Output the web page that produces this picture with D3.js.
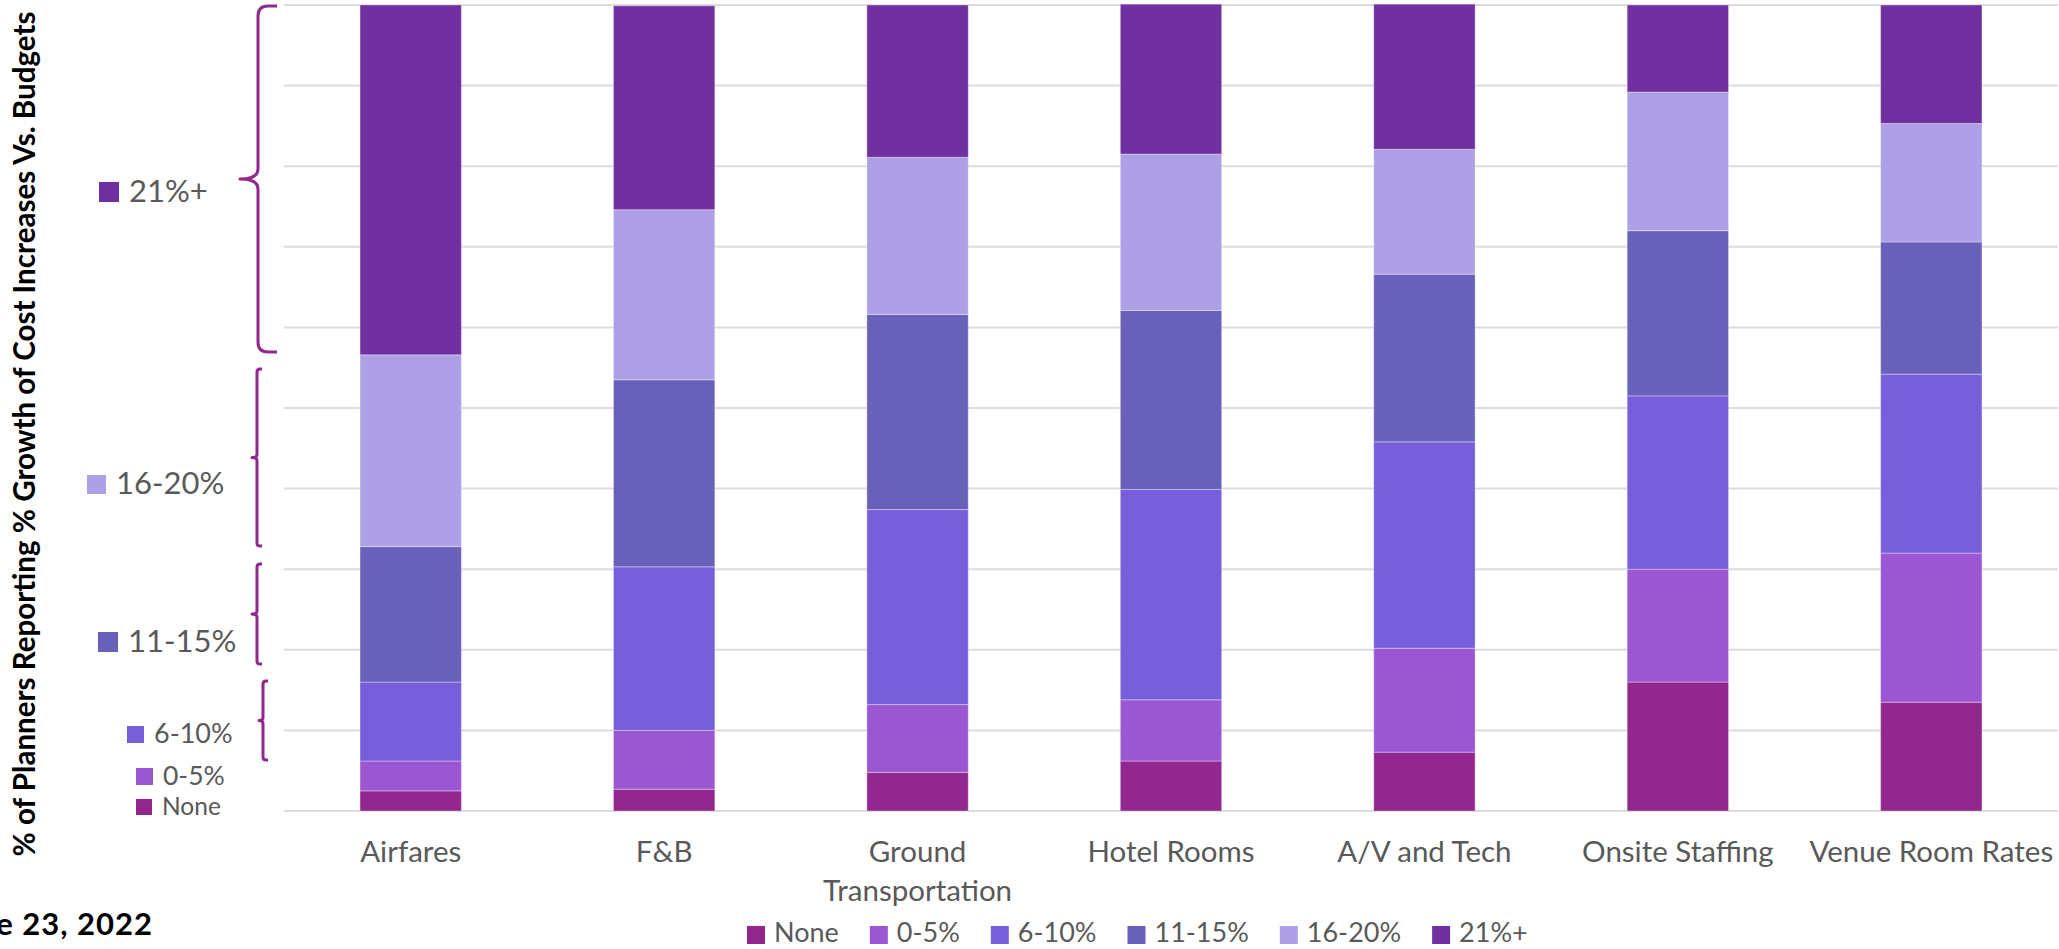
<!DOCTYPE html>
<html>
<head>
<meta charset="utf-8">
<script src="https://cdn.jsdelivr.net/npm/d3@7"></script>
<style>
  html, body { margin: 0; padding: 0; background: #ffffff; }
  svg { display: block; }
</style>
</head>
<body>
<script>
// Cost categories along the x axis
const categories = ["Airfares", "F&B", "Ground Transportation", "Hotel Rooms",
                    "A/V and Tech", "Onsite Staffing", "Venue Room Rates"];

// Growth buckets, bottom of the stack first
const seriesKeys = ["None", "0-5%", "6-10%", "11-15%", "16-20%", "21%+"];

// Share of planners (%) in each bucket, one value per category
const noneValues      = [2.5, 2.7, 4.8, 6.2, 7.3, 16.0, 13.5];
const pct0to5Values   = [3.7, 7.3, 8.4, 7.6, 12.9, 14.0, 18.5];
const pct6to10Values  = [9.8, 20.3, 24.2, 26.1, 25.6, 21.5, 22.2];
const pct11to15Values = [16.8, 23.2, 24.2, 22.2, 20.8, 20.5, 16.4];
const pct16to20Values = [23.8, 21.1, 19.5, 19.4, 15.5, 17.2, 14.7];
const pct21plusValues = [43.4, 25.3, 18.9, 18.6, 18.0, 10.8, 14.7];

// Gridline values on the percentage axis
const yTicks = [0, 10, 20, 30, 40, 50, 60, 70, 80, 90, 100];

const axisTitle = "% of Planners Reporting % Growth of Cost Increases Vs. Budgets";
const dateText = "June 23, 2022";

// ---- styling / layout ----
const W = 2059, H = 949;
const colors = {
  "None":   "#92278f",
  "0-5%":   "#9b56d2",
  "6-10%":  "#775edb",
  "11-15%": "#6960b9",
  "16-20%": "#aea0e7",
  "21%+":   "#7030a0"
};
const bracketColor = "#92278f";
const textGray = "#595959";
const labelFont = "Lato, 'Noto Sans', sans-serif";

const plot = { left: 284, right: 2058, top: 5, bottom: 811 };
const titleLength = 845;   // length the rotated axis title is fitted to

// side legend entries: swatch position/size and label size
const sideLegend = [
  { key: "21%+",   x: 99,  y: 182, size: 20, font: 31 },
  { key: "16-20%", x: 87,  y: 475, size: 19, font: 31 },
  { key: "11-15%", x: 98,  y: 632, size: 20, font: 31 },
  { key: "6-10%",  x: 127, y: 726, size: 17, font: 27 },
  { key: "0-5%",   x: 136, y: 768, size: 17, font: 26.5 },
  { key: "None",   x: 136, y: 799, size: 16, font: 24.5 }
];

// bracket annotations: spine x, top/bottom and serif/tick lengths (px)
const brackets = [
  { x: 258, y0: 6,   y1: 352, serif: 19, tick: 18, r: 10 },
  { x: 257, y0: 369, y1: 546, serif: 5,  tick: 5,  r: 3 },
  { x: 257, y0: 564, y1: 664, serif: 5,  tick: 5,  r: 3 },
  { x: 263, y0: 681, y1: 760, serif: 5,  tick: 4,  r: 3 }
];

const seriesValues = [noneValues, pct0to5Values, pct6to10Values,
                      pct11to15Values, pct16to20Values, pct21plusValues];

const table = categories.map((c, i) => {
  const row = { category: c };
  seriesKeys.forEach((k, j) => { row[k] = seriesValues[j][i]; });
  return row;
});

const stacked = d3.stack().keys(seriesKeys)(table);

const svg = d3.select("body").append("svg")
  .attr("width", W).attr("height", H);

const x = d3.scaleBand()
  .domain(categories)
  .range([plot.left, plot.right])
  .paddingInner(0.6)
  .paddingOuter(0.3);

const y = d3.scaleLinear()
  .domain([0, 100])
  .range([plot.bottom, plot.top]);

// gridlines
svg.append("g").attr("class", "grid")
  .selectAll("line").data(yTicks).join("line")
  .attr("x1", plot.left).attr("x2", plot.right)
  .attr("y1", d => y(d)).attr("y2", d => y(d))
  .attr("stroke", "#dcdcdc").attr("stroke-width", 2);

// stacked bars
svg.append("g").attr("class", "bars")
  .selectAll("g").data(stacked).join("g")
  .attr("fill", d => colors[d.key])
  .selectAll("rect").data(d => d).join("rect")
  .attr("x", d => x(d.data.category))
  .attr("width", x.bandwidth())
  .attr("y", d => y(d[1]))
  .attr("height", d => y(d[0]) - y(d[1]))
  .attr("stroke", "rgba(255,255,255,0.35)")
  .attr("stroke-width", 1);

// category axis
const xAxis = svg.append("g")
  .attr("transform", `translate(0,${plot.bottom})`)
  .call(d3.axisBottom(x).tickSize(0).tickPadding(0));
xAxis.select(".domain").remove();
xAxis.selectAll(".tick text").each(function (d) {
  const t = d3.select(this);
  t.text(null)
    .attr("y", 51).attr("dy", null)
    .attr("fill", textGray)
    .style("font-family", labelFont)
    .style("font-size", "29.5px");
  const words = d === "Ground Transportation" ? ["Ground", "Transportation"] : [d];
  words.forEach((w, i) => {
    t.append("tspan").attr("x", 0).attr("dy", i === 0 ? 0 : 39).text(w);
  });
});

// rotated axis title, sized to span the chart height
const title = svg.append("text")
  .attr("transform", `translate(35,434) rotate(-90)`)
  .attr("text-anchor", "middle")
  .attr("fill", "#000")
  .style("font-family", labelFont)
  .style("font-weight", 700)
  .style("font-size", "30px")
  .text(axisTitle);
const baseLen = title.node().getComputedTextLength();
title.style("font-size", (30 * titleLength / baseLen).toFixed(2) + "px");

// date line, running off the left edge
svg.append("text")
  .attr("x", 153).attr("y", 935)
  .attr("text-anchor", "end")
  .attr("fill", "#000")
  .style("font-family", labelFont)
  .style("font-weight", 700)
  .style("font-size", "31px")
  .style("letter-spacing", "1px")
  .text(dateText);

// brackets
const bracketPath = b => {
  const ym = (b.y0 + b.y1) / 2;
  return `M${b.x + b.serif},${b.y0} L${b.x + b.r},${b.y0} Q${b.x},${b.y0} ${b.x},${b.y0 + b.r}`
    + ` L${b.x},${ym - b.r} Q${b.x},${ym} ${b.x - b.tick},${ym}`
    + ` Q${b.x},${ym} ${b.x},${ym + b.r}`
    + ` L${b.x},${b.y1 - b.r} Q${b.x},${b.y1} ${b.x + b.r},${b.y1} L${b.x + b.serif},${b.y1}`;
};
svg.append("g").selectAll("path").data(brackets).join("path")
  .attr("d", bracketPath)
  .attr("fill", "none")
  .attr("stroke", bracketColor)
  .attr("stroke-width", 3)
  .attr("stroke-linejoin", "round");

// side legend
const side = svg.append("g").selectAll("g").data(sideLegend).join("g");
side.append("rect")
  .attr("x", d => d.x).attr("y", d => d.y)
  .attr("width", d => d.size).attr("height", d => d.size)
  .attr("fill", d => colors[d.key]);
side.append("text")
  .attr("x", d => d.x + d.size + 10)
  .attr("y", d => d.y + d.size)
  .attr("fill", textGray)
  .style("font-family", labelFont)
  .style("font-size", d => d.font + "px")
  .text(d => d.key);

// bottom legend
const legend = svg.append("g");
let lx = 747;
seriesKeys.forEach(k => {
  legend.append("rect")
    .attr("x", lx).attr("y", 926)
    .attr("width", 18).attr("height", 18)
    .attr("fill", colors[k]);
  const t = legend.append("text")
    .attr("x", lx + 27).attr("y", 942)
    .attr("fill", textGray)
    .style("font-family", labelFont)
    .style("font-size", "27px")
    .text(k);
  lx += 27 + t.node().getComputedTextLength() + 31;
});
</script>
</body>
</html>
